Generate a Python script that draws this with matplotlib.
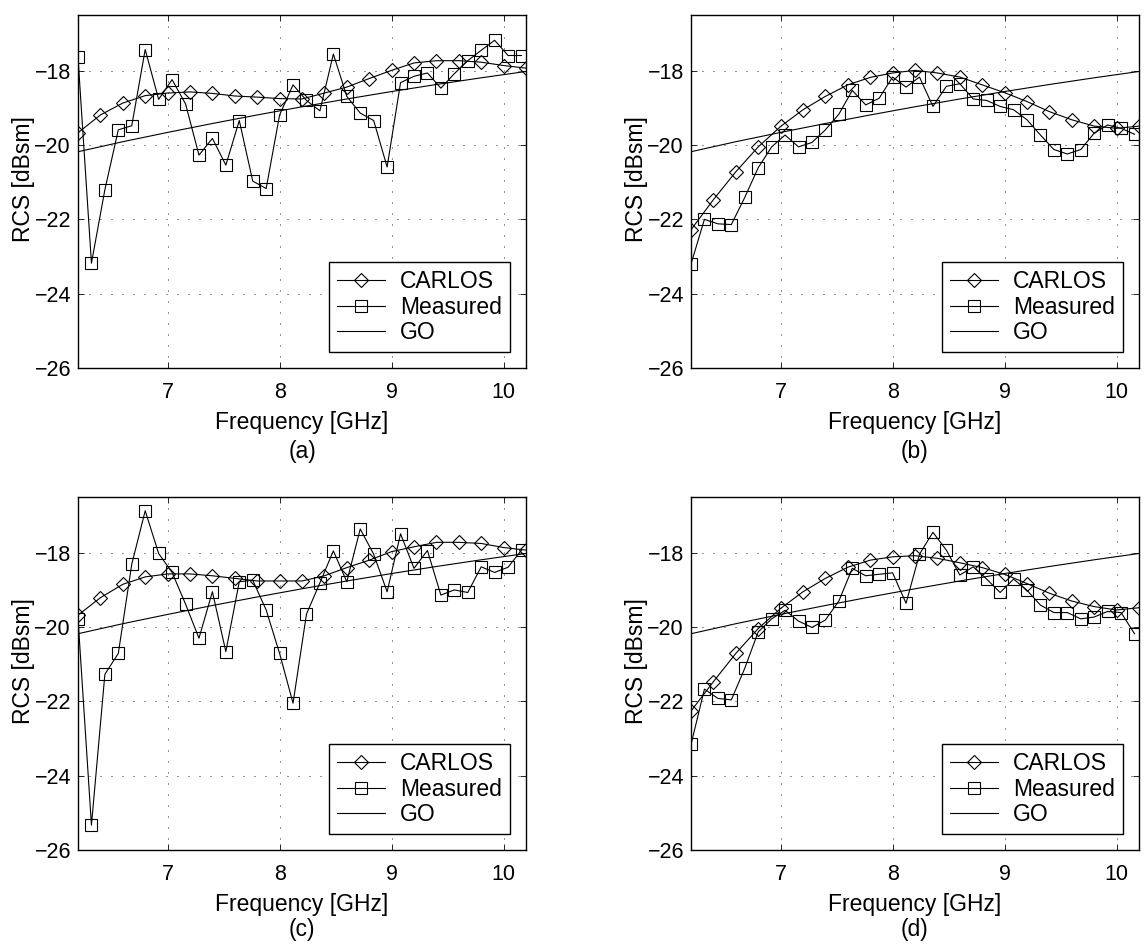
import matplotlib
matplotlib.use("Agg")
import matplotlib.pyplot as plt
import numpy as np

plt.rcParams['font.family'] = ['Liberation Sans', 'DejaVu Sans']

# ---------------- data ----------------
CARLOS_FREQ = [6.2, 6.4, 6.6, 6.8, 7.0, 7.2, 7.4, 7.6, 7.8, 8.0, 8.2,
               8.4, 8.6, 8.8, 9.0, 9.2, 9.4, 9.6, 9.8, 10.0, 10.2]
MEAS_FREQ = [6.20, 6.32, 6.44, 6.56, 6.68, 6.80, 6.92, 7.04, 7.16, 7.28,
             7.40, 7.52, 7.64, 7.76, 7.88, 8.00, 8.12, 8.24, 8.36, 8.48,
             8.60, 8.72, 8.84, 8.96, 9.08, 9.20, 9.32, 9.44, 9.56, 9.68,
             9.80, 9.92, 10.04, 10.16]
GO_FREQ = [6.2, 6.6, 7.0, 7.4, 7.8, 8.2, 8.6, 9.0, 9.4, 9.8, 10.2]
GO_RCS = [-20.18, -19.91, -19.66, -19.42, -19.19, -18.97, -18.76,
          -18.56, -18.37, -18.19, -18.02]

CARLOS_A = [-19.67, -19.19, -18.87, -18.67, -18.60, -18.57, -18.61, -18.68,
            -18.71, -18.75, -18.76, -18.60, -18.44, -18.21, -17.99, -17.79,
            -17.73, -17.73, -17.77, -17.86, -17.93]
MEAS_A = [-17.64, -23.18, -21.20, -19.59, -19.48, -17.43, -18.77, -18.24,
          -18.89, -20.27, -19.82, -20.54, -19.34, -20.97, -21.17, -19.19,
          -18.38, -18.80, -19.08, -17.55, -18.69, -19.14, -19.34, -20.59,
          -18.32, -18.15, -18.06, -18.47, -18.08, -17.73, -17.45, -17.18,
          -17.59, -17.59]

CARLOS_B = [-22.28, -21.47, -20.72, -20.05, -19.50, -19.05, -18.69, -18.38,
            -18.18, -18.06, -17.99, -18.06, -18.17, -18.38, -18.59, -18.83,
            -19.10, -19.32, -19.49, -19.55, -19.49]
MEAS_B = [-23.20, -22.00, -22.12, -22.14, -21.41, -20.61, -20.05, -19.73,
          -20.05, -19.93, -19.59, -19.17, -18.53, -18.92, -18.74, -18.17,
          -18.44, -18.17, -18.96, -18.42, -18.35, -18.76, -18.80, -18.96,
          -19.05, -19.32, -19.73, -20.12, -20.24, -20.12, -19.68, -19.46,
          -19.55, -19.71]

CARLOS_C = [-19.68, -19.21, -18.85, -18.65, -18.57, -18.57, -18.62, -18.69,
            -18.76, -18.76, -18.76, -18.62, -18.40, -18.20, -17.97, -17.84,
            -17.72, -17.72, -17.75, -17.86, -17.93]
MEAS_C = [-19.77, -25.33, -21.27, -20.71, -18.31, -16.87, -18.02, -18.53,
          -19.38, -20.30, -19.05, -20.66, -18.78, -18.74, -19.54, -20.71,
          -22.05, -19.65, -18.81, -17.95, -18.78, -17.36, -18.04, -19.05,
          -17.49, -18.42, -17.94, -19.14, -19.00, -19.07, -18.38, -18.53,
          -18.39, -17.93]

CARLOS_D = [-22.26, -21.47, -20.71, -20.04, -19.50, -19.05, -18.69, -18.39,
            -18.20, -18.11, -18.08, -18.15, -18.27, -18.40, -18.58, -18.83,
            -19.09, -19.30, -19.45, -19.54, -19.48]
MEAS_D = [-23.16, -21.67, -21.92, -21.96, -21.11, -20.13, -19.78, -19.55,
          -19.84, -20.01, -19.81, -19.30, -18.42, -18.62, -18.58, -18.54,
          -19.36, -18.04, -17.45, -17.93, -18.60, -18.38, -18.71, -19.07,
          -18.71, -19.01, -19.41, -19.61, -19.61, -19.78, -19.73, -19.58,
          -19.61, -20.18]

PANELS = ['(a)', '(b)', '(c)', '(d)']
CARLOS_ALL = [CARLOS_A, CARLOS_B, CARLOS_C, CARLOS_D]
MEAS_ALL = [MEAS_A, MEAS_B, MEAS_C, MEAS_D]
XTICKS = [7, 8, 9, 10]
YTICKS = [-26, -24, -22, -20, -18]

# ---------------- figure ----------------
W, H = 1144, 944
fig = plt.figure(figsize=(W / 100, H / 100), dpi=100)

# axes boxes in pixels: left, top, right, bottom
boxes = [(78, 15, 526, 368), (691, 15, 1139, 368),
         (78, 497, 526, 850), (691, 497, 1139, 850)]
CAPTION_Y = [-0.236, -0.236, -0.224, -0.224]

TFS = 15.5   # tick labels
LFS = 16.5   # axis labels, legend, captions
for i, (l, t, r, b) in enumerate(boxes):
    ax = fig.add_axes([l / W, 1 - b / H, (r - l) / W, (b - t) / H])
    ax.plot(CARLOS_FREQ, CARLOS_ALL[i], color='black', lw=0.8, marker='D',
            markersize=7.5, markerfacecolor='none', markeredgecolor='black',
            markeredgewidth=0.8, label='CARLOS', zorder=3)
    ax.plot(MEAS_FREQ, MEAS_ALL[i], color='black', lw=0.8, marker='s',
            markersize=8.5, markerfacecolor='none', markeredgecolor='black',
            markeredgewidth=0.8, label='Measured', zorder=3)
    ax.plot(GO_FREQ, GO_RCS, color='black', lw=0.8, label='GO', zorder=3)

    ax.set_xlim(6.2, 10.2)
    ax.set_ylim(-26, -16.5)
    ax.set_xticks(XTICKS)
    ax.set_yticks(YTICKS)
    ax.grid(True, color='black', linestyle=(0, (1.2, 12)), linewidth=0.6)
    ax.tick_params(direction='in', length=4, width=0.6, top=True, right=True,
                   labelsize=TFS)
    ax.tick_params(axis='x', pad=10)
    ax.tick_params(axis='y', pad=5)
    for s in ax.spines.values():
        s.set_linewidth(1.0)
    ax.set_xlabel('Frequency [GHz]', fontsize=LFS, labelpad=5.5)
    ax.set_ylabel('RCS [dBsm]', fontsize=LFS)
    ax.yaxis.set_label_coords(-0.097, 0.535)
    ax.text(0.5, CAPTION_Y[i], PANELS[i], transform=ax.transAxes,
            ha='center', va='center', fontsize=LFS)
    leg = ax.legend(loc='lower right', fontsize=LFS, frameon=True,
                    fancybox=False, edgecolor='black', framealpha=1,
                    handlelength=2.1, handletextpad=0.65, borderpad=0.35,
                    labelspacing=0.1, borderaxespad=0.7)
    leg.get_frame().set_linewidth(1.0)

fig.savefig('out.png', dpi=100)
